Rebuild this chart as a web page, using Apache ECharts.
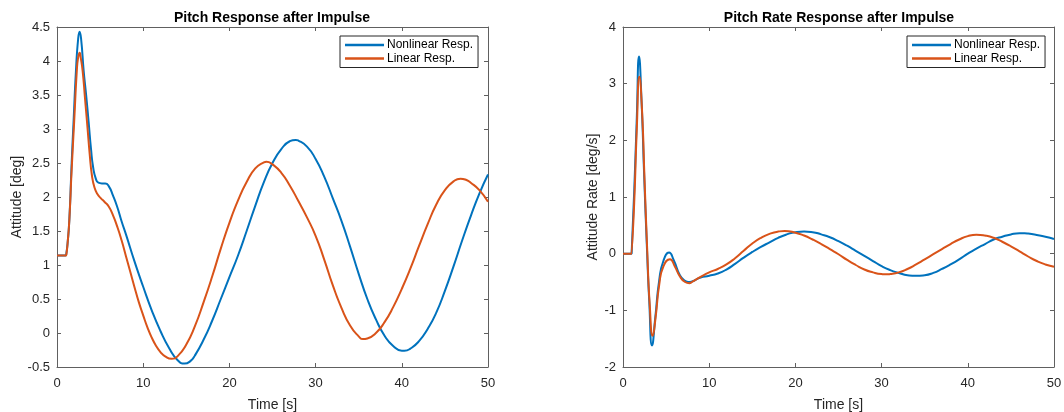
<!DOCTYPE html>
<html>
<head>
<meta charset="utf-8">
<script src="https://cdn.jsdelivr.net/npm/echarts@6/dist/echarts.min.js"></script>
<style>
    html, body { margin: 0; padding: 0; background: #fff; }
    #chart { width: 1064px; height: 412px; }
</style>
</head>
<body>
<div id="chart"></div>
<script>
// pitch attitude, nonlinear model
var attTimeNL = [0, 1.0, 1.06, 1.25, 1.43, 1.7, 1.93, 2.2, 2.45, 2.62, 2.8, 3.09, 3.38, 3.67, 3.95, 4.2, 4.5, 4.8, 5.2, 5.6, 6.0, 6.5, 7.0, 7.5, 8, 9, 10, 11, 12, 13, 14, 14.8, 15.5, 16, 17, 18, 19, 20, 21, 22, 23, 24, 25, 26, 27, 27.7, 28, 29, 30, 31, 32, 33, 34, 35, 36, 37, 38, 39, 40, 40.3, 41, 42, 43, 44, 45, 46, 47, 48, 49, 50];
var attNL = [1.14, 1.14, 1.15, 1.35, 1.66, 2.5, 3.13, 3.86, 4.32, 4.43, 4.32, 3.86, 3.5, 3.1, 2.7, 2.43, 2.27, 2.21, 2.2, 2.2, 2.16, 2.02, 1.85, 1.64, 1.45, 1.05, 0.68, 0.33, 0.03, -0.22, -0.4, -0.45, -0.41, -0.33, -0.1, 0.18, 0.5, 0.82, 1.14, 1.5, 1.87, 2.22, 2.5, 2.7, 2.82, 2.84, 2.83, 2.74, 2.56, 2.3, 1.98, 1.65, 1.27, 0.87, 0.5, 0.2, -0.04, -0.19, -0.26, -0.26, -0.23, -0.12, 0.06, 0.3, 0.62, 0.98, 1.36, 1.72, 2.05, 2.33];

// pitch attitude, linear model
var attTimeL = [0, 1.0, 1.08, 1.25, 1.43, 1.7, 2.0, 2.3, 2.45, 2.62, 2.75, 2.97, 3.25, 3.55, 3.8, 4.05, 4.35, 4.7, 5.1, 5.5, 6.0, 6.5, 7.0, 7.5, 8.0, 8.5, 9.0, 9.5, 10, 10.5, 11, 11.5, 12, 12.5, 13.3, 14, 15, 16, 17, 18, 19, 20, 21, 22, 23, 24, 24.3, 25, 26, 27, 28, 29, 30, 31, 32, 33, 34, 35, 35.5, 36, 37, 38, 39, 40, 41, 42, 43, 44, 45, 46, 46.8, 47.5, 48, 49, 50];
var attL = [1.14, 1.14, 1.15, 1.35, 1.66, 2.4, 3.13, 3.86, 4.05, 4.12, 4.05, 3.86, 3.45, 3.0, 2.62, 2.32, 2.14, 2.04, 1.98, 1.93, 1.86, 1.73, 1.56, 1.36, 1.13, 0.9, 0.67, 0.45, 0.26, 0.08, -0.07, -0.19, -0.28, -0.34, -0.38, -0.34, -0.17, 0.1, 0.45, 0.83, 1.24, 1.62, 1.95, 2.22, 2.42, 2.51, 2.52, 2.48, 2.36, 2.17, 1.94, 1.7, 1.43, 1.08, 0.7, 0.37, 0.11, -0.05, -0.09, -0.08, 0.0, 0.16, 0.38, 0.65, 0.95, 1.28, 1.6, 1.89, 2.1, 2.23, 2.27, 2.25, 2.21, 2.1, 1.93];

// pitch rate, nonlinear model
var rateTimeNL = [0, 1.0, 1.04, 1.3, 1.6, 1.86, 2.15, 2.45, 2.75, 3.05, 3.37, 3.75, 4.2, 4.7, 5.34, 5.9, 6.6, 7.2, 7.6, 8, 9, 10, 11, 12, 13, 14, 15, 16, 17, 18, 19, 20, 21, 22, 23, 24, 25, 26, 27, 28, 29, 30, 31, 32, 33, 34, 35, 36, 37, 38, 39, 40, 41, 42, 43, 44, 45, 46, 46.6, 47, 48, 49, 50];
var rateNL = [0, 0, 0, 1.1, 2.4, 3.48, 2.7, 1.4, 0.2, -0.85, -1.62, -1.12, -0.47, -0.12, 0.02, -0.12, -0.38, -0.48, -0.5, -0.49, -0.42, -0.39, -0.35, -0.28, -0.18, -0.07, 0.03, 0.12, 0.2, 0.28, 0.34, 0.38, 0.39, 0.38, 0.34, 0.29, 0.22, 0.14, 0.05, -0.04, -0.13, -0.22, -0.29, -0.34, -0.38, -0.39, -0.38, -0.34, -0.27, -0.19, -0.1, 0.0, 0.09, 0.17, 0.25, 0.3, 0.34, 0.36, 0.36, 0.355, 0.33, 0.3, 0.26];

// pitch rate, linear model
var rateTimeL = [0, 1.0, 1.05, 1.3, 1.6, 1.9, 2.2, 2.5, 2.8, 3.1, 3.45, 3.8, 4.2, 4.7, 5.45, 6.0, 6.6, 7.2, 7.7, 8, 9, 10, 11, 12, 13, 14, 15, 16, 17, 18, 18.76, 20, 21, 22, 23, 24, 25, 26, 27, 28, 29, 30, 30.55, 31, 32, 33, 34, 35, 36, 37, 38, 39, 40, 41, 42, 43, 44, 45, 46, 47, 48, 49, 50];
var rateL = [0, 0, 0, 0.9, 2.2, 3.12, 2.55, 1.3, 0.1, -0.9, -1.45, -1.1, -0.55, -0.22, -0.1, -0.22, -0.4, -0.5, -0.52, -0.5, -0.41, -0.33, -0.27, -0.19, -0.08, 0.05, 0.18, 0.28, 0.35, 0.39, 0.4, 0.37, 0.32, 0.25, 0.17, 0.08, -0.01, -0.11, -0.2, -0.28, -0.33, -0.36, -0.365, -0.36, -0.33, -0.27, -0.19, -0.1, -0.01, 0.08, 0.17, 0.25, 0.31, 0.335, 0.32, 0.28, 0.21, 0.13, 0.04, -0.05, -0.13, -0.19, -0.23];

var xTicks = { min: 0, max: 50, interval: 10 };
var attTicks = { min: -0.5, max: 4.5, interval: 0.5 };
var rateTicks = { min: -2, max: 4, interval: 1 };

var seriesNames = ["Nonlinear Resp.", "Linear Resp."];
var titles = ["Pitch Response after Impulse", "Pitch Rate Response after Impulse"];

var font = "'Liberation Sans', Arial, Helvetica, sans-serif";
var axisColor = "#606060";
var textColor = "#262626";

function pairs(t, v) {
    var out = [];
    for (let i = 0; i < t.length; i++) {
        out.push([t[i], v[i]]);
    }
    return out;
}

function makeAxis(grid, pos, ticks, showLabel, name, gap, margin) {
    return {
        type: "value",
        gridIndex: grid,
        position: pos,
        min: ticks.min,
        max: ticks.max,
        interval: ticks.interval,
        name: showLabel ? name : "",
        nameLocation: "middle",
        nameGap: gap,
        nameTextStyle: { fontFamily: font, fontSize: 14, color: textColor },
        axisLine: { show: true, onZero: false, lineStyle: { color: axisColor, width: 1 } },
        axisTick: { show: true, inside: true, length: 4, lineStyle: { color: axisColor } },
        axisLabel: { show: showLabel, fontFamily: font, fontSize: 13, color: textColor, margin: margin || 7 },
        splitLine: { show: false }
    };
}

function makeLegend(left) {
    return {
        data: seriesNames,
        orient: "vertical",
        left: left,
        top: 36,
        padding: [3, 5, 3, 5],
        itemWidth: 39,
        itemHeight: 14,
        itemGap: 1.5,
        icon: "path://M0,0H39V2.4H0Z",
        borderColor: "#262626",
        borderWidth: 1,
        backgroundColor: "#fff",
        selectedMode: false,
        textStyle: { fontFamily: font, fontSize: 12, color: "#000", padding: [0, 0, 0, -2] }
    };
}

function makeLine(name, color, data, axis) {
    return {
        name: name,
        type: "line",
        xAxisIndex: axis,
        yAxisIndex: axis,
        data: data,
        symbol: "none",
        smooth: 0.55,
        lineStyle: { color: color, width: 2 },
        itemStyle: { color: color },
        z: name == seriesNames[1] ? 3 : 2
    };
}

var myChart = echarts.init(document.getElementById("chart"));

var chart_option = {
    animation: false,
    backgroundColor: "#fff",
    title: [
        { text: titles[0], left: 272, top: 11, textAlign: "center", padding: 0,
          textStyle: { fontFamily: font, fontSize: 14, fontWeight: "bold", color: "#000" } },
        { text: titles[1], left: 839, top: 11, textAlign: "center", padding: 0,
          textStyle: { fontFamily: font, fontSize: 14, fontWeight: "bold", color: "#000" } }
    ],
    legend: [makeLegend(340), makeLegend(907)],
    grid: [
        { left: 57, top: 27, width: 431, height: 340, outerBoundsMode: "none" },
        { left: 623, top: 27, width: 431, height: 340, outerBoundsMode: "none" }
    ],
    xAxis: [
        makeAxis(0, "bottom", xTicks, true, "Time [s]", 31, 10),
        makeAxis(1, "bottom", xTicks, true, "Time [s]", 31, 10),
        makeAxis(0, "top", xTicks, false, "", 0),
        makeAxis(1, "top", xTicks, false, "", 0)
    ],
    yAxis: [
        makeAxis(0, "left", attTicks, true, "Attitude [deg]", 31),
        makeAxis(1, "left", rateTicks, true, "Attitude Rate [deg/s]", 21),
        makeAxis(0, "right", attTicks, false, "", 0),
        makeAxis(1, "right", rateTicks, false, "", 0)
    ],
    series: [
        makeLine(seriesNames[0], "#0072BD", pairs(attTimeNL, attNL), 0),
        makeLine(seriesNames[1], "#D95319", pairs(attTimeL, attL), 0),
        makeLine(seriesNames[0], "#0072BD", pairs(rateTimeNL, rateNL), 1),
        makeLine(seriesNames[1], "#D95319", pairs(rateTimeL, rateL), 1)
    ]
};
myChart.setOption(chart_option);
</script>
</body>
</html>
